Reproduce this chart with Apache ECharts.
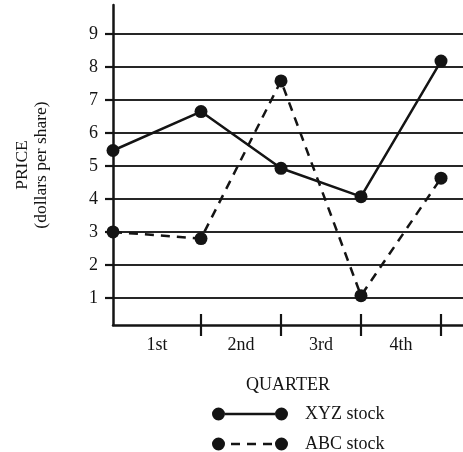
<!DOCTYPE html>
<html>
<head>
<meta charset="utf-8">
<script src="https://cdn.jsdelivr.net/npm/echarts@6/dist/echarts.min.js"></script>
<style>html,body{margin:0;padding:0;background:#fff}#c{width:463px;height:452px}</style>
</head>
<body>
<div id="c"></div>
<script>
// Data
var quarterLabels = ['1st', '2nd', '3rd', '4th'];
var pointX = [0, 1.1, 2.1, 3.1, 4.1];          // start, end of each quarter
var quarterTickX = [1.1, 2.1, 3.1, 4.1];
var quarterLabelX = [0.55, 1.6, 2.6, 3.6];
var xyzValues = [5.47, 6.65, 4.93, 4.07, 8.18];
var abcValues = [3.0, 2.8, 7.58, 1.07, 4.63];
var yTicks = [1, 2, 3, 4, 5, 6, 7, 8, 9];

var FONT = '"Liberation Serif", "Times New Roman", serif';
var INK = '#141414';

function pair(xs, ys) { return xs.map(function (x, i) { return [x, ys[i]]; }); }

var solidIcon = 'path://M0,6.5A6.5,6.5 0 1,1 13,6.5A6.5,6.5 0 1,1 0,6.5Z M13,5.3H63V7.7H13Z M63,6.5A6.5,6.5 0 1,1 76,6.5A6.5,6.5 0 1,1 63,6.5Z';
var dashIcon = 'path://M0,6.5A6.5,6.5 0 1,1 13,6.5A6.5,6.5 0 1,1 0,6.5Z M19,5.3H28V7.7H19Z M35,5.3H44V7.7H35Z M51,5.3H60V7.7H51Z M63,6.5A6.5,6.5 0 1,1 76,6.5A6.5,6.5 0 1,1 63,6.5Z';

var chart = echarts.init(document.getElementById('c'), null, { renderer: 'canvas' });
chart.setOption({
  animation: false,
  backgroundColor: '#fff',
  textStyle: { fontFamily: FONT, color: INK },
  grid: { left: 113, right: 0, top: 5, bottom: 127, containLabel: false },
  legend: {
    orient: 'vertical',
    left: 212,
    top: 405,
    height: 60,
    padding: 0,
    itemWidth: 76,
    itemHeight: 13,
    itemGap: 12,
    selectedMode: false,
    itemStyle: { borderWidth: 0 },
    lineStyle: { width: 0 },
    textStyle: { fontFamily: FONT, fontSize: 18, color: INK, padding: [0, 0, 0, 12] },
    data: [
      { name: 'XYZ stock', icon: solidIcon },
      { name: 'ABC stock', icon: dashIcon }
    ]
  },
  xAxis: [{
    type: 'value',
    min: 0,
    max: 4.375,
    name: 'QUARTER',
    nameLocation: 'middle',
    nameGap: 51,
    nameTextStyle: { fontFamily: FONT, fontSize: 18, color: INK },
    axisLine: { show: true, lineStyle: { color: INK, width: 2.5 } },
    axisTick: { show: true, customValues: quarterTickX, length: 11, lineStyle: { color: INK, width: 2.2 } },
    axisLabel: {
      show: true,
      customValues: quarterLabelX,
      margin: 11,
      fontFamily: FONT, fontSize: 18, color: INK,
      formatter: function (v) {
        var i = quarterLabelX.indexOf(v);
        return i >= 0 ? quarterLabels[i] : '';
      }
    },
    splitLine: { show: false }
  }, {
    type: 'value',
    min: 0,
    max: 4.375,
    position: 'bottom',
    axisLine: { show: false },
    axisTick: { show: true, inside: true, customValues: quarterTickX, length: 11, lineStyle: { color: INK, width: 2.2 } },
    axisLabel: { show: false },
    splitLine: { show: false }
  }],
  yAxis: {
    type: 'value',
    min: 0.18,
    max: 9.88,
    name: 'PRICE\n(dollars per share)',
    nameLocation: 'middle',
    nameRotate: 90,
    nameGap: 62,
    nameTextStyle: { fontFamily: FONT, fontSize: 17.5, color: INK, lineHeight: 19, align: 'center' },
    axisLine: { show: true, lineStyle: { color: INK, width: 2.5 } },
    axisTick: { show: true, customValues: yTicks, length: 8, lineStyle: { color: INK, width: 2.2 } },
    axisLabel: { show: true, customValues: yTicks, margin: 15, fontFamily: FONT, fontSize: 18, color: INK },
    splitLine: { show: true, lineStyle: { color: '#262626', width: 2.2 } }
  },
  series: [{
    name: 'XYZ stock',
    type: 'line',
    data: pair(pointX, xyzValues),
    symbol: 'circle',
    symbolSize: 13,
    color: INK,
    itemStyle: { color: INK },
    lineStyle: { color: INK, width: 2.5, type: 'solid' },
    z: 3
  }, {
    name: 'ABC stock',
    type: 'line',
    data: pair(pointX, abcValues),
    symbol: 'circle',
    symbolSize: 13,
    color: INK,
    itemStyle: { color: INK },
    lineStyle: { color: INK, width: 2.5, type: [9, 7] },
    z: 3
  }]
});
</script>
</body>
</html>
